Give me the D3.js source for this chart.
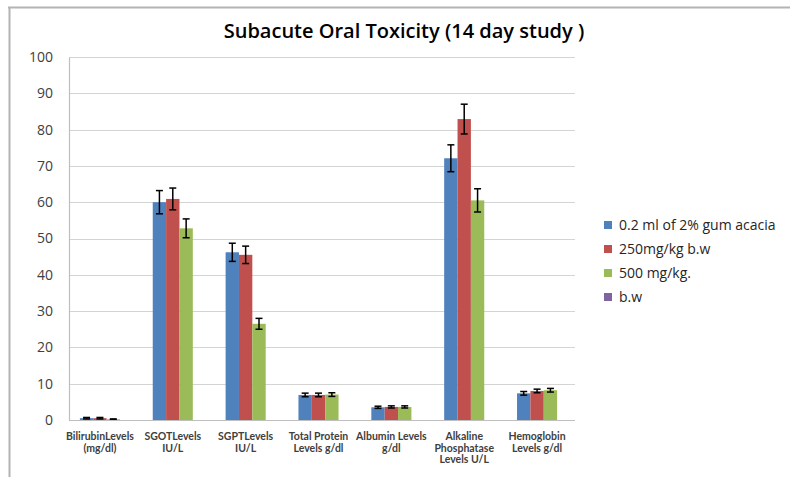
<!DOCTYPE html>
<html><head><meta charset="utf-8">
<script src="https://cdn.jsdelivr.net/npm/d3@7/dist/d3.min.js"></script>
<style>body{margin:0;background:#fff;} svg{display:block;}</style>
</head><body>
<svg id="chart" width="790" height="477"></svg>
<script>
const categories = ["BilirubinLevels\n(mg/dl)", "SGOTLevels\nIU/L", "SGPTLevels\nIU/L", "Total Protein\nLevels g/dl", "Albumin Levels\ng/dl", "Alkaline\nPhosphatase\nLevels U/L", "Hemoglobin\nLevels g/dl"];
const seriesNames = ["0.2 ml of 2% gum acacia", "250mg/kg b.w", "500 mg/kg.", "b.w"];
const seriesColors = ["#4F81BD", "#C0504D", "#9BBB59", "#8064A2"];
const control = [0.5, 60.0, 46.2, 6.9, 3.5, 72.1, 7.35];
const dose250 = [0.5, 60.9, 45.5, 6.9, 3.6, 82.9, 8.0];
const dose500 = [0.2, 52.8, 26.5, 7.0, 3.6, 60.5, 8.2];
const controlErr = [0.2, 3.2, 2.5, 0.5, 0.3, 3.7, 0.5];
const dose250Err = [0.2, 3.0, 2.4, 0.5, 0.3, 4.1, 0.5];
const dose500Err = [0.1, 2.6, 1.5, 0.5, 0.3, 3.2, 0.5];
const yTicks = [0, 10, 20, 30, 40, 50, 60, 70, 80, 90, 100];
const title = "Subacute Oral Toxicity (14 day study )";

const seriesVals = [control, dose250, dose500];
const seriesErrs = [controlErr, dose250Err, dose500Err];

const svg = d3.select("#chart");
const font = "'Open Sans', sans-serif";
const catFont = "Lato, 'Open Sans', sans-serif";

// outer frame
svg.append("line").attr("x1", 8).attr("x2", 790).attr("y1", 7.5).attr("y2", 7.5)
  .attr("stroke", "#b3b3b3").attr("stroke-width", 2);
svg.append("line").attr("x1", 9.5).attr("x2", 9.5).attr("y1", 7).attr("y2", 477)
  .attr("stroke", "#b3b3b3").attr("stroke-width", 2);

const y = d3.scaleLinear().domain([0, 100]).range([420, 57]);
const x0 = d3.scaleBand().domain(d3.range(categories.length)).range([63.5, 573.5])
  .paddingInner(0.45).paddingOuter(0.225);
const x1 = d3.scaleBand().domain([0, 1, 2]).range([0, x0.bandwidth()]).padding(0);

const plotLeft = 69, plotRight = 575;

// gridlines
svg.append("g").selectAll("line").data(yTicks.filter(t => t > 0)).join("line")
  .attr("x1", plotLeft).attr("x2", plotRight)
  .attr("y1", d => Math.round(y(d)) + 0.5).attr("y2", d => Math.round(y(d)) + 0.5)
  .attr("stroke", "#d4d4d4").attr("stroke-width", 1.2);

// y axis
const yAxis = svg.append("g").attr("transform", `translate(${plotLeft},0)`)
  .call(d3.axisLeft(y).tickValues(yTicks).tickSize(0).tickPadding(16));
yAxis.select(".domain").attr("stroke", "#bfbfbf").attr("stroke-width", 1.2);
yAxis.selectAll("text").attr("font-family", font).attr("font-size", 14).attr("fill", "#404040");

// bars
const groups = svg.append("g").selectAll("g").data(categories).join("g")
  .attr("transform", (d, i) => `translate(${x0(i)},0)`);
groups.each(function(c, i) {
  const g = d3.select(this);
  seriesVals.forEach((vals, s) => {
    const v = vals[i];
    g.append("rect").attr("x", x1(s)).attr("width", x1.bandwidth())
      .attr("y", y(v)).attr("height", y(0) - y(v)).attr("fill", seriesColors[s]);
  });
  seriesVals.forEach((vals, s) => {
    const v = vals[i], e = seriesErrs[s][i];
    const cx = x1(s) + x1.bandwidth() / 2;
    g.append("line").attr("x1", cx).attr("x2", cx).attr("y1", y(v + e)).attr("y2", y(v - e))
      .attr("stroke", "#000").attr("stroke-width", 1.5);
    [v + e, v - e].forEach(t => {
      g.append("line").attr("x1", cx - 3.5).attr("x2", cx + 3.5).attr("y1", y(t)).attr("y2", y(t))
        .attr("stroke", "#000").attr("stroke-width", 1.5);
    });
  });
});

// x axis line
svg.append("line").attr("x1", plotLeft).attr("x2", plotRight).attr("y1", 420.5).attr("y2", 420.5)
  .attr("stroke", "#bfbfbf").attr("stroke-width", 1.2);

// category labels
svg.append("g").selectAll("text").data(categories).join("text")
  .attr("x", (d, i) => x0(i) + x0.bandwidth() / 2)
  .attr("y", 440)
  .attr("text-anchor", "middle")
  .attr("font-family", catFont).attr("font-size", 10.5).attr("font-weight", 700).attr("fill", "#404040")
  .each(function(d) {
    d3.select(this).selectAll("tspan").data(d.split("\n")).join("tspan")
      .attr("x", d3.select(this).attr("x")).attr("dy", (t, k) => k === 0 ? 0 : 11.5).text(t => t);
  });

// title
svg.append("text").attr("x", 404).attr("y", 38).attr("text-anchor", "middle")
  .attr("font-family", font).attr("font-size", 20).attr("font-weight", 600).attr("fill", "#000")
  .text(title);

// legend
const legend = svg.append("g").selectAll("g").data(seriesNames).join("g")
  .attr("transform", (d, i) => `translate(604,${225 + i * 24})`);
legend.append("rect").attr("x", 0).attr("y", -4).attr("width", 8).attr("height", 8)
  .attr("fill", (d, i) => seriesColors[i]);
legend.append("text").attr("x", 15).attr("y", 0).attr("dy", "0.35em")
  .attr("font-family", font).attr("font-size", 14).attr("fill", "#262626").text(d => d);
</script>
</body></html>
